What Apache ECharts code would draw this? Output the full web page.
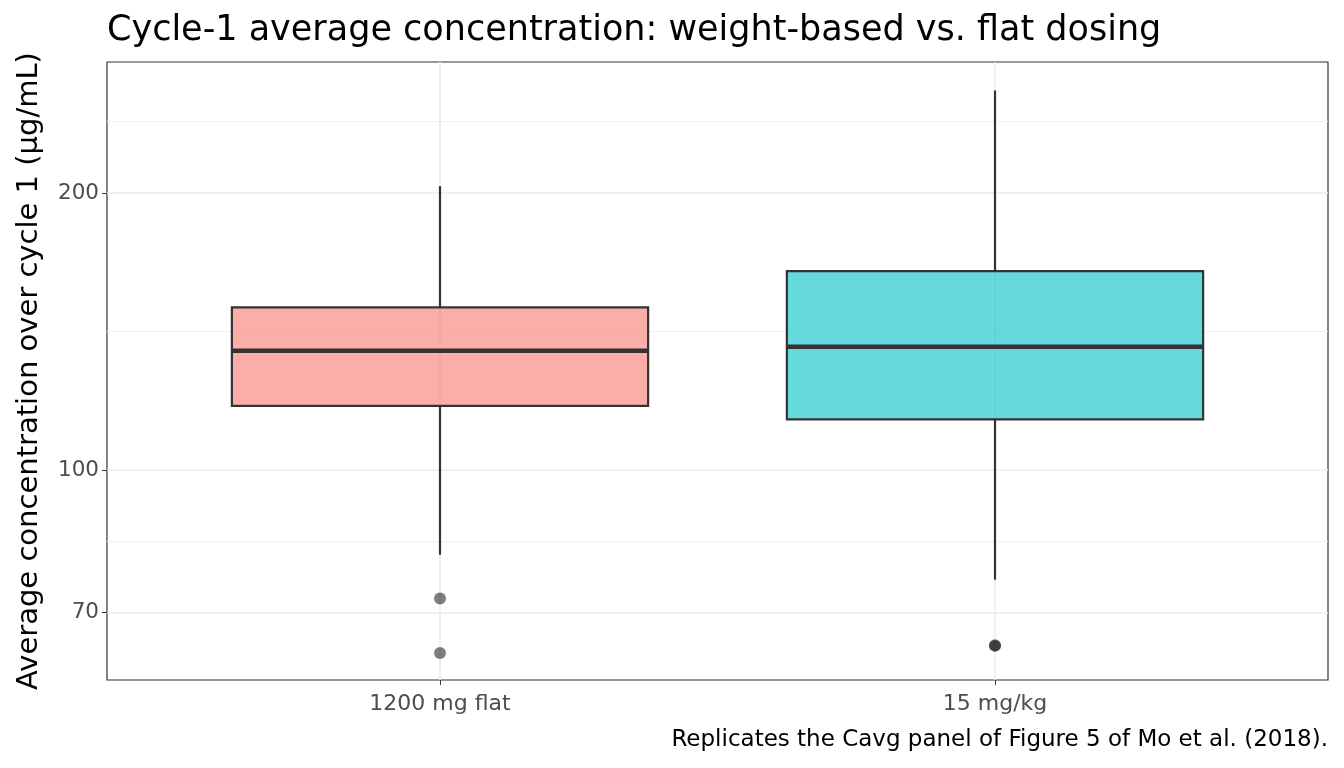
<!DOCTYPE html>
<html>
<head>
<meta charset="utf-8">
<script src="https://cdn.jsdelivr.net/npm/echarts@6/dist/echarts.min.js"></script>
<style>html,body{margin:0;padding:0;background:#fff;}#chart{width:1344px;height:768px;}</style>
</head>
<body>
<div id="chart"></div>
<script>
// ---- data ----
var groups = ['1200 mg flat', '15 mg/kg'];
var whiskerLow = [80.9, 76.0];
var q1 = [117.4, 113.5];
var median = [134.8, 136.1];
var q3 = [150.2, 164.5];
var whiskerHigh = [203.5, 258.5];
var outlierGroup = [1, 1, 2, 2];
var outlierValue = [72.5, 63.25, 64.5, 64.4];
var yTicks = [70, 100, 200];
var yMinorTicks = [83.67, 141.42, 239.05];
var fills = ['rgba(248,118,109,0.6)', 'rgba(0,191,196,0.6)'];

var boxData = groups.map(function (g, i) {
  return [i + 1, whiskerLow[i], q1[i], median[i], q3[i], whiskerHigh[i]];
});
var outlierData = outlierValue.map(function (v, i) { return [outlierGroup[i], v]; });

var FONT = 'DejaVu Sans';
var chart = echarts.init(document.getElementById('chart'), null, { renderer: 'canvas' });
var yMin = 59.13, yMax = 277.6;
var option = {
  animation: false,
  backgroundColor: '#ffffff',
  title: [
    { text: 'Cycle-1 average concentration: weight-based vs. flat dosing', left: 102, top: 8,
      textStyle: { fontFamily: FONT, fontSize: 35, fontWeight: 'normal', color: '#000' } },
    { text: 'Replicates the Cavg panel of Figure 5 of Mo et al. (2018).', right: 11, top: 724,
      textStyle: { fontFamily: FONT, fontSize: 23, fontWeight: 'normal', color: '#000' } }
  ],
  grid: { left: 107, right: 16, top: 62, bottom: 88, show: true, borderColor: '#333333', borderWidth: 1.2,
          containLabel: false, outerBoundsMode: 'none' },
  xAxis: {
    type: 'value', min: 0.4, max: 2.6,
    axisLine: { show: false },
    axisTick: { show: true, length: 5, lineStyle: { color: '#333', width: 1 }, customValues: [1, 2] },
    axisLabel: { customValues: [1, 2], margin: 13, fontFamily: FONT, fontSize: 22, color: '#4D4D4D',
      formatter: function (v) { return groups[Math.round(v) - 1] || ''; } },
    splitLine: { show: true, lineStyle: { color: '#EBEBEB', width: 1.6 } }
  },
  yAxis: [
    {
      type: 'log', logBase: 10, min: yMin, max: yMax,
      name: 'Average concentration over cycle 1 (μg/mL)', nameLocation: 'middle', nameGap: 63,
      nameTextStyle: { fontFamily: FONT, fontSize: 29, color: '#000' },
      axisLine: { show: false },
      axisTick: { show: true, length: 5, lineStyle: { color: '#333', width: 1 }, customValues: yTicks },
      axisLabel: { customValues: yTicks, margin: 8, fontFamily: FONT, fontSize: 21.5, color: '#4D4D4D',
        formatter: function (v) { return String(Math.round(v)); } },
      splitLine: { show: true, lineStyle: { color: '#EBEBEB', width: 1.6 } }
    },
    {
      type: 'log', logBase: 10, min: yMin, max: yMax, position: 'left',
      axisLine: { show: false },
      axisTick: { show: false, customValues: yMinorTicks },
      axisLabel: { show: false, customValues: yMinorTicks },
      splitLine: { show: true, lineStyle: { color: '#F2F2F2', width: 1 } }
    }
  ],
  series: [
    {
      type: 'custom', name: 'box', yAxisIndex: 0,
      encode: { x: 0, y: [1, 2, 3, 4, 5] },
      data: boxData,
      z: 3,
      renderItem: function (params, api) {
        var x = api.value(0);
        var half = 0.375;
        var pLo = api.coord([x, api.value(1)]);
        var pQ1 = api.coord([x, api.value(2)]);
        var pMed = api.coord([x, api.value(3)]);
        var pQ3 = api.coord([x, api.value(4)]);
        var pHi = api.coord([x, api.value(5)]);
        var xl = api.coord([x - half, api.value(3)])[0];
        var xr = api.coord([x + half, api.value(3)])[0];
        var stroke = '#333333';
        return {
          type: 'group',
          children: [
            { type: 'line', shape: { x1: pQ3[0], y1: pQ3[1], x2: pHi[0], y2: pHi[1] },
              style: { stroke: stroke, lineWidth: 2.2 } },
            { type: 'line', shape: { x1: pQ1[0], y1: pQ1[1], x2: pLo[0], y2: pLo[1] },
              style: { stroke: stroke, lineWidth: 2.2 } },
            { type: 'rect', shape: { x: xl, y: pQ3[1], width: xr - xl, height: pQ1[1] - pQ3[1] },
              style: { fill: fills[params.dataIndex], stroke: stroke, lineWidth: 2.2 } },
            { type: 'line', shape: { x1: xl, y1: pMed[1], x2: xr, y2: pMed[1] },
              style: { stroke: stroke, lineWidth: 4.5 } }
          ]
        };
      }
    },
    {
      type: 'scatter', name: 'outliers', yAxisIndex: 0,
      data: outlierData, symbol: 'circle', symbolSize: 12, z: 4,
      itemStyle: { color: 'rgba(0,0,0,0.5)', opacity: 1 }
    }
  ]
};
chart.setOption(option);
</script>
</body>
</html>
